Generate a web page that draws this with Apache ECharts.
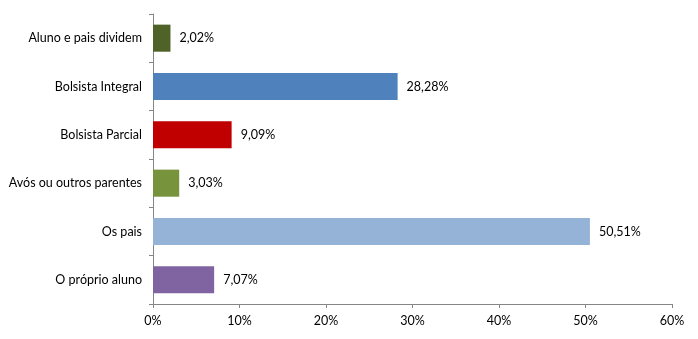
<!DOCTYPE html>
<html>
<head>
<meta charset="utf-8">
<script src="https://cdn.jsdelivr.net/npm/echarts@6/dist/echarts.min.js"></script>
<style>
  html, body { margin: 0; padding: 0; background: #fff; }
  #chart { width: 698px; height: 339px; }
</style>
</head>
<body>
<div id="chart"></div>
<script>
// Categories listed bottom to top (ECharts category axis grows upward)
const categories = ['O próprio aluno', 'Os pais', 'Avós ou outros parentes', 'Bolsista Parcial', 'Bolsista Integral', 'Aluno e pais dividem'];
const values = [7.07, 50.51, 3.03, 9.09, 28.28, 2.02];
const barColors = ['#8064a2', '#95b3d7', '#77933c', '#c00000', '#4f81bd', '#4f6228'];
const xTicks = [0, 10, 20, 30, 40, 50, 60];

const fmt = v => v.toFixed(2).replace('.', ',') + '%';
const fontFamily = 'Lato, "Open Sans", sans-serif';

const chart = echarts.init(document.getElementById('chart'));
chart.setOption({
  animation: false,
  grid: { left: 153, right: 26, top: 14, bottom: 35, containLabel: false },
  xAxis: {
    type: 'value',
    min: xTicks[0],
    max: xTicks[xTicks.length - 1],
    interval: 10,
    axisLine: { show: true, lineStyle: { color: '#868686', width: 1 } },
    axisTick: { show: true, length: 4, lineStyle: { color: '#868686' } },
    splitLine: { show: false },
    axisLabel: { color: '#000', fontFamily, fontSize: 12.5, margin: 10, formatter: v => v + '%' }
  },
  yAxis: {
    type: 'category',
    data: categories,
    axisLine: { show: true, lineStyle: { color: '#868686', width: 1 } },
    axisTick: { show: true, length: 4, alignWithLabel: false, lineStyle: { color: '#868686' } },
    axisLabel: { color: '#000', fontFamily, fontSize: 12.5, margin: 11 }
  },
  series: [{
    type: 'bar',
    data: values.map((v, i) => ({ value: v, itemStyle: { color: barColors[i] } })),
    barWidth: '56%',
    label: {
      show: true,
      position: 'right',
      distance: 9,
      color: '#000',
      fontFamily,
      fontSize: 12.5,
      formatter: p => fmt(p.value)
    }
  }]
});
</script>
</body>
</html>
